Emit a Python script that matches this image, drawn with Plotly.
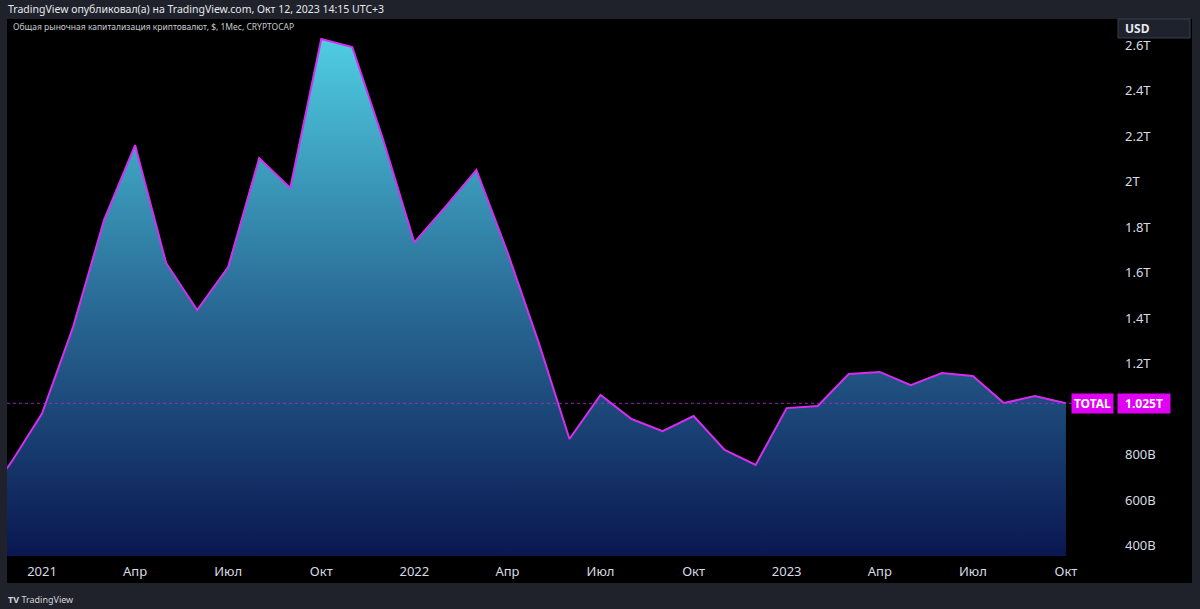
import plotly.graph_objects as go

# ---- data (monthly closes, trillions USD) ----
months = ["2020-11", "2020-12",
          "2021-01", "2021-02", "2021-03", "2021-04", "2021-05", "2021-06",
          "2021-07", "2021-08", "2021-09", "2021-10", "2021-11", "2021-12",
          "2022-01", "2022-02", "2022-03", "2022-04", "2022-05", "2022-06",
          "2022-07", "2022-08", "2022-09", "2022-10", "2022-11", "2022-12",
          "2023-01", "2023-02", "2023-03", "2023-04", "2023-05", "2023-06",
          "2023-07", "2023-08", "2023-09", "2023-10"]
total_cap = [0.58, 0.764,
             0.980, 1.36, 1.831, 2.160, 1.642, 1.435,
             1.624, 2.103, 1.971, 2.626, 2.591, 2.182,
             1.732, 1.888, 2.051, 1.690, 1.295, 0.868,
             1.062, 0.956, 0.903, 0.969, 0.820, 0.754,
             1.004, 1.013, 1.154, 1.163, 1.105, 1.158,
             1.145, 1.026, 1.057, 1.025]
last_value_text = "1.025T"
series_name = "TOTAL"

x_tick_vals = ["2021-01", "2021-04", "2021-07", "2021-10", "2022-01", "2022-04",
               "2022-07", "2022-10", "2023-01", "2023-04", "2023-07", "2023-10"]
x_tick_text = ["2021", "Апр", "Июл", "Окт", "2022", "Апр",
               "Июл", "Окт", "2023", "Апр", "Июл", "Окт"]
y_tick_vals = [0.4, 0.6, 0.8, 1.2, 1.4, 1.6, 1.8, 2.0, 2.2, 2.4, 2.6]
y_tick_text = ["400B", "600B", "800B", "1.2T", "1.4T", "1.6T", "1.8T", "2T", "2.2T", "2.4T", "2.6T"]

# ---- layout geometry (pixels) ----
W, H = 1200, 609
PL, PR, PT, PB = 7, 1110, 19, 556


def px(x):
    return (x - PL) / (PR - PL)


def py(y):
    return (PB - y) / (PB - PT)


LINE = "#d52ef2"
BOX = "#e000f4"
FRAME = "#1f222a"
TXT = "#d8dbe2"
FONT = "Noto Sans"

fig = go.Figure()
fig.add_trace(go.Scatter(
    x=months, y=total_cap, mode="lines",
    line=dict(color=LINE, width=2),
    fill="tozeroy",
    fillgradient=dict(type="vertical", start=0.354, stop=2.63,
                      colorscale=[[0, "#0a1750"], [0.5, "#2a6d98"], [1, "#4fcde2"]]),
    hoverinfo="skip", showlegend=False,
))

shapes = [
    dict(type="rect", xref="paper", yref="paper", x0=px(7), x1=px(1192), y0=py(583), y1=py(19),
         fillcolor="#000000", line=dict(width=0), layer="below"),
    dict(type="line", xref="paper", yref="y", x0=0, x1=1, y0=total_cap[-1], y1=total_cap[-1],
         line=dict(color="rgba(170,40,215,0.85)", width=1, dash="dot"), layer="above"),
    dict(type="rect", xref="paper", yref="paper", x0=px(1118), x1=px(1190), y0=py(38), y1=py(19),
         fillcolor="#1e222d", line=dict(color="#3a3e4a", width=1)),
]

annotations = [
    dict(text="TradingView опубликовал(а) на TradingView.com, Окт 12, 2023 14:15 UTC+3",
         xref="paper", yref="paper", x=px(6), y=py(9.5), xanchor="left", yanchor="middle",
         showarrow=False, font=dict(family=FONT, size=10.5, color="#e6e8ee")),
    dict(text="Общая рыночная капитализация криптовалют, $, 1Мес, CRYPTOCAP",
         xref="paper", yref="paper", x=px(11), y=py(27), xanchor="left", yanchor="middle",
         showarrow=False, font=dict(family=FONT, size=8.5, color="#c8cad0")),
    dict(text="<b>USD</b>", xref="paper", yref="paper", x=px(1123), y=py(29), xanchor="left", yanchor="middle",
         showarrow=False, font=dict(family=FONT, size=12, color="#e6e8ee")),
    dict(text="<b>" + series_name + "</b>", xref="paper", yref="y", x=px(1114), y=total_cap[-1],
         xanchor="right", yanchor="middle", showarrow=False, bgcolor=BOX, width=39, height=17,
         borderpad=1, font=dict(family=FONT, size=12, color="#ffffff")),
    dict(text="<b>" + last_value_text + "</b>", xref="paper", yref="y", x=px(1117), y=total_cap[-1],
         xanchor="left", yanchor="middle", showarrow=False, bgcolor=BOX, width=50, height=17,
         borderpad=1, font=dict(family=FONT, size=12, color="#ffffff")),
    dict(text="<b>TV</b> TradingView", xref="paper", yref="paper", x=px(6), y=py(599),
         xanchor="left", yanchor="middle", showarrow=False,
         font=dict(family=FONT, size=9, color="#d1d4dc")),
]

fig.update_layout(
    width=W, height=H,
    margin=dict(l=PL, r=W - PR, t=PT, b=H - PB, pad=0),
    paper_bgcolor=FRAME, plot_bgcolor="#000000",
    shapes=shapes, annotations=annotations,
    xaxis=dict(type="category", categoryorder="array", categoryarray=months,
               range=[0.872, 36.42], tickvals=x_tick_vals, ticktext=x_tick_text,
               showgrid=False, zeroline=False, showline=False, ticks="",
               ticklabelstandoff=6, tickfont=dict(family=FONT, size=13, color=TXT)),
    yaxis=dict(side="right", range=[0.354, 2.714], tickvals=y_tick_vals, ticktext=y_tick_text,
               showgrid=False, zeroline=False, showline=False, ticks="",
               ticklabelstandoff=14, tickfont=dict(family=FONT, size=13, color=TXT)),
)

fig.write_html("out.html")
